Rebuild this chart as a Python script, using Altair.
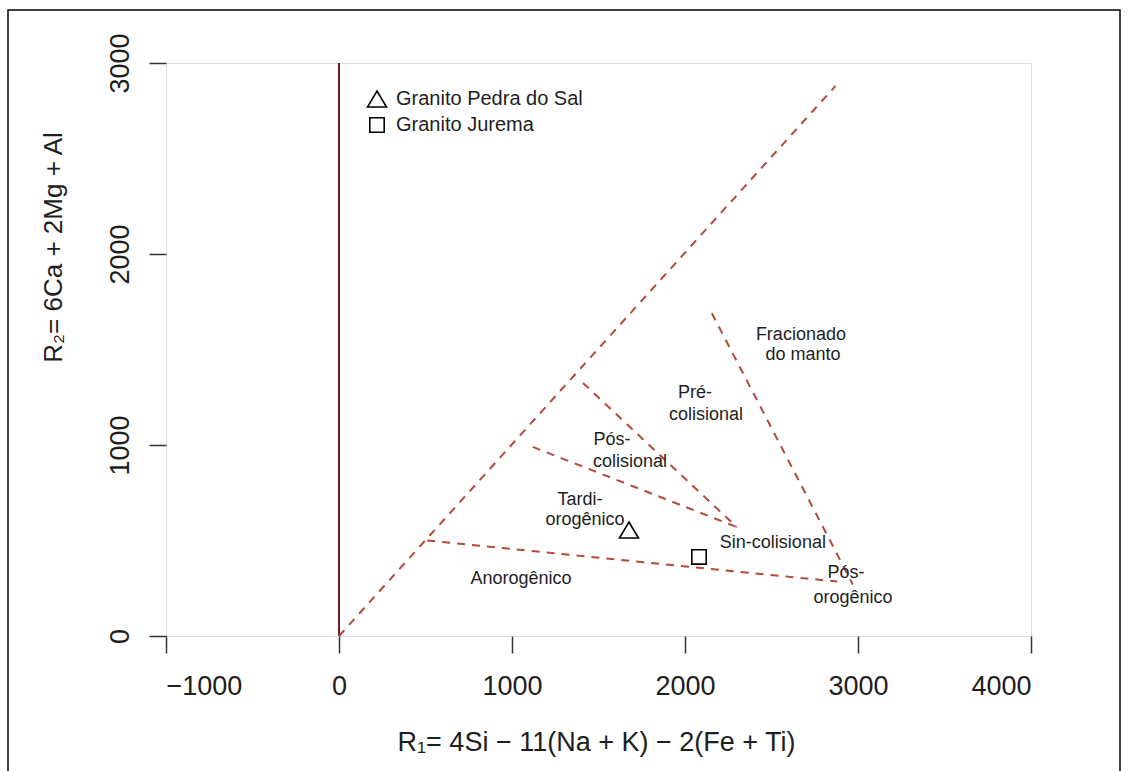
import altair as alt
import pandas as pd

# ---- data ----
x_ticks = [-1000, 0, 1000, 2000, 3000, 4000]
y_ticks = [0, 1000, 2000, 3000]

# dashed field boundaries (R1, R2) start -> end
seg_x1 = [0, 510, 1120, 1410, 2155]
seg_y1 = [0, 500, 990, 1325, 1690]
seg_x2 = [2870, 2880, 2300, 2300, 2970]
seg_y2 = [2880, 285, 570, 570, 270]

# solid reference line at R1 = 0
vline_r1 = [0]
vline_r2_from = [0]
vline_r2_to = [3000]

# field names (one entry per text line)
label_text = ["Fracionado", "do manto", "Pré-", "colisional", "Pós-", "colisional",
              "Tardi-", "orogênico", "Sin-colisional", "Anorogênico", "Pós-", "orogênico"]
label_x = [2670, 2682, 2058, 2121, 1578, 1682, 1393, 1422, 2508, 1052, 2930, 2971]
label_y = [1576, 1471, 1272, 1157, 1026, 911, 712, 607, 487, 298, 330, 199]

# samples
sample_names = ["Granito Pedra do Sal", "Granito Jurema"]
sample_r1 = [1676, 2081]
sample_r2 = [555, 414]

# ---- tables ----
segs = pd.DataFrame({"x1": seg_x1, "y1": seg_y1, "x2": seg_x2, "y2": seg_y2})
vline = pd.DataFrame({"x": vline_r1, "y1": vline_r2_from, "y2": vline_r2_to})
labels = pd.DataFrame({"t": label_text, "x": label_x, "y": label_y})
samples = pd.DataFrame({"name": sample_names, "x": sample_r1, "y": sample_r2})

FONT = "Liberation Sans"
TXT = "#1e1e1e"

xs = alt.Scale(domain=[-1000, 4000], nice=False, zero=False)
ys = alt.Scale(domain=[0, 3000], nice=False, zero=False)

ax_x = alt.Axis(values=x_ticks, format="d", grid=False, domain=False,
                tickSize=17, tickWidth=1.5, tickColor="#333",
                labelFontSize=27, labelColor=TXT, labelPadding=20, labelFont=FONT,
                title="R\u2081= 4Si \u2212 11(Na + K) \u2212 2(Fe + Ti)",
                titleFontSize=27, titleFontWeight="normal", titleColor=TXT, titleFont=FONT,
                titleX=430, titleY=106, titleBaseline="middle", titleAlign="center")
ax_y = alt.Axis(values=y_ticks, format="d", grid=False, domain=False,
                tickSize=17, tickWidth=1.5, tickColor="#333",
                labelFontSize=27, labelColor=TXT, labelPadding=21, labelFont=FONT,
                labelAngle=270, labelAlign="center", labelBaseline="alphabetic",
                title="R\u2082= 6Ca + 2Mg + Al",
                titleFontSize=26, titleFontWeight="normal", titleColor=TXT, titleFont=FONT,
                titleAngle=270, titleX=-113, titleY=184, titleBaseline="middle", titleAlign="center")

border = alt.Chart(pd.DataFrame({"k": [0]})).mark_rect(
    fillOpacity=0, stroke="black", strokeWidth=1.5
).encode(x=alt.value(-158), x2=alt.value(954), y=alt.value(-53), y2=alt.value(720))

vrule = alt.Chart(vline).mark_rule(color="#7a1c1c", strokeWidth=2).encode(
    x=alt.X("x:Q", scale=xs, axis=ax_x),
    y=alt.Y("y1:Q", scale=ys, axis=ax_y),
    y2="y2:Q",
)

bounds = alt.Chart(segs).mark_rule(color="#b4493c", strokeWidth=2, strokeDash=[8, 7]).encode(
    x=alt.X("x1:Q", scale=xs, axis=ax_x),
    y=alt.Y("y1:Q", scale=ys, axis=ax_y),
    x2="x2:Q",
    y2="y2:Q",
)

texts = alt.Chart(labels).mark_text(fontSize=18, font=FONT, color=TXT, align="center",
                                    baseline="middle").encode(
    x=alt.X("x:Q", scale=xs, axis=ax_x),
    y=alt.Y("y:Q", scale=ys, axis=ax_y),
    text="t:N",
)

tri = "M0,-0.8L0.95,0.8L-0.95,0.8Z"
sq = "M-0.72,-0.72L0.72,-0.72L0.72,0.72L-0.72,0.72Z"

points = alt.Chart(samples).mark_point(filled=False, color="black", strokeWidth=1.6,
                                       size=400, opacity=1).encode(
    x=alt.X("x:Q", scale=xs, axis=ax_x),
    y=alt.Y("y:Q", scale=ys, axis=ax_y),
    shape=alt.Shape("name:N", scale=alt.Scale(domain=sample_names, range=[tri, sq]),
                    legend=alt.Legend(title=None, orient="none", legendX=200, legendY=25,
                                      labelFontSize=20, labelFont=FONT, labelColor=TXT,
                                      labelLimit=0,
                                      symbolSize=400, symbolStrokeWidth=1.6,
                                      symbolStrokeColor="black", symbolFillColor="transparent",
                                      labelOffset=8, rowPadding=3)),
)

chart = alt.layer(border, vrule, bounds, texts, points).properties(
    width=865, height=573,
    autosize=alt.AutoSizeParams(type="none"),
    padding={"left": 166, "top": 63, "right": 100, "bottom": 135},
    background="white",
).configure_view(stroke="#333", strokeWidth=2).configure(font=FONT)

chart.save("out.html", embed_options={"renderer": "svg", "actions": False})
